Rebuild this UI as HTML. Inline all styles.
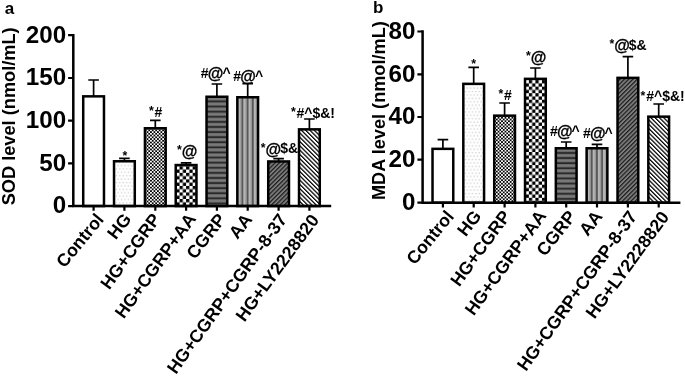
<!DOCTYPE html>
<html lang="en">
<head>
<meta charset="utf-8">
<title>SOD and MDA levels</title>
<style>
html,body{margin:0;padding:0;background:#fff;}
body{width:685px;height:376px;overflow:hidden;}
svg{display:block;}
text{font-family:"Liberation Sans", Arial, Helvetica, sans-serif;font-weight:bold;fill:#000;}
</style>
</head>
<body>
<svg width="685" height="376" viewBox="0 0 685 376">
<defs>
<pattern id="pa1" x="123.9" y="163.5" width="6.86" height="6.8" patternUnits="userSpaceOnUse"><rect width="6.86" height="6.8" fill="#fff"/><rect x="0.35" y="1.4" width="1.3" height="1.3" fill="#cfcfcf"/><rect x="3.78" y="1.4" width="1.3" height="1.3" fill="#cfcfcf"/><rect x="2.06" y="4.8" width="1.3" height="1.3" fill="#cfcfcf"/><rect x="5.49" y="4.8" width="1.3" height="1.3" fill="#cfcfcf"/></pattern>
<pattern id="pa2" x="155.3" y="129.5" width="3.47" height="3.47" patternUnits="userSpaceOnUse"><rect width="3.47" height="3.47" fill="#000"/><rect x="1.74" y="0.01" width="1.72" height="1.72" fill="#fff"/><rect x="0.01" y="1.74" width="1.72" height="1.72" fill="#fff"/></pattern>
<pattern id="pa3" x="186.1" y="166.3" width="6.54" height="6.54" patternUnits="userSpaceOnUse"><rect width="6.54" height="6.54" fill="#fff"/><rect width="3.27" height="3.27" fill="#000"/><rect x="3.27" y="3.27" width="3.27" height="3.27" fill="#000"/></pattern>
<pattern id="pa4" x="216.9" y="98" width="10" height="5.1" patternUnits="userSpaceOnUse"><rect width="10" height="5.1" fill="#666"/><rect y="0.2" width="10" height="1.4" fill="#7e7e7e"/><rect y="2.8" width="10" height="1.3" fill="#1a1a1a"/></pattern>
<pattern id="pa5" x="247.7" y="98.5" width="5.2" height="10" patternUnits="userSpaceOnUse"><rect width="5.2" height="10" fill="#a2a2a2"/><rect x="0.6" width="2" height="10" fill="#b6b6b6"/><rect x="4" width="1.2" height="10" fill="#7c7c7c"/><rect x="-0.1" width="0.7" height="10" fill="#3a3a3a"/><rect x="4.7" width="0.5" height="10" fill="#3a3a3a"/></pattern>
<pattern id="pa6" width="3.03" height="10" patternUnits="userSpaceOnUse" patternTransform="translate(278.6 162.7) rotate(45)"><rect width="3.03" height="10" fill="#7c7c7c"/><rect width="1.2" height="10" fill="#1c1c1c"/></pattern>
<pattern id="pa7" width="3.03" height="10" patternUnits="userSpaceOnUse" patternTransform="translate(309.4 130.6) rotate(-45)"><rect width="3.03" height="10" fill="#fff"/><rect width="1.25" height="10" fill="#000"/></pattern>
<pattern id="pb1" x="473.2" y="86.1" width="6.86" height="6.8" patternUnits="userSpaceOnUse"><rect width="6.86" height="6.8" fill="#fff"/><rect x="0.35" y="1.4" width="1.3" height="1.3" fill="#cfcfcf"/><rect x="3.78" y="1.4" width="1.3" height="1.3" fill="#cfcfcf"/><rect x="2.06" y="4.8" width="1.3" height="1.3" fill="#cfcfcf"/><rect x="5.49" y="4.8" width="1.3" height="1.3" fill="#cfcfcf"/></pattern>
<pattern id="pb2" x="504.6" y="116.9" width="3.47" height="3.47" patternUnits="userSpaceOnUse"><rect width="3.47" height="3.47" fill="#000"/><rect x="1.74" y="0.01" width="1.72" height="1.72" fill="#fff"/><rect x="0.01" y="1.74" width="1.72" height="1.72" fill="#fff"/></pattern>
<pattern id="pb3" x="535.4" y="80.1" width="6.54" height="6.54" patternUnits="userSpaceOnUse"><rect width="6.54" height="6.54" fill="#fff"/><rect width="3.27" height="3.27" fill="#000"/><rect x="3.27" y="3.27" width="3.27" height="3.27" fill="#000"/></pattern>
<pattern id="pb4" x="566.2" y="149.5" width="10" height="5.1" patternUnits="userSpaceOnUse"><rect width="10" height="5.1" fill="#666"/><rect y="0.2" width="10" height="1.4" fill="#7e7e7e"/><rect y="2.8" width="10" height="1.3" fill="#1a1a1a"/></pattern>
<pattern id="pb5" x="597" y="149.5" width="5.2" height="10" patternUnits="userSpaceOnUse"><rect width="5.2" height="10" fill="#a2a2a2"/><rect x="0.6" width="2" height="10" fill="#b6b6b6"/><rect x="4" width="1.2" height="10" fill="#7c7c7c"/><rect x="-0.1" width="0.7" height="10" fill="#3a3a3a"/><rect x="4.7" width="0.5" height="10" fill="#3a3a3a"/></pattern>
<pattern id="pb6" width="3.03" height="10" patternUnits="userSpaceOnUse" patternTransform="translate(627.9 79.1) rotate(45)"><rect width="3.03" height="10" fill="#7c7c7c"/><rect width="1.2" height="10" fill="#1c1c1c"/></pattern>
<pattern id="pb7" width="3.03" height="10" patternUnits="userSpaceOnUse" patternTransform="translate(658.7 117.9) rotate(-45)"><rect width="3.03" height="10" fill="#fff"/><rect width="1.25" height="10" fill="#000"/></pattern>
</defs>
<rect width="685" height="376" fill="#fff"/>
<g id="chart-a">
<path d="M93.6 96.1V80M88.3 80H98.9" stroke="#000" stroke-width="1.7" fill="none"/>
<rect x="83.22" y="96.35" width="20.75" height="109.7" fill="#fff" stroke="#000" stroke-width="2.5"/>
<path d="M124.4 161V158.3M119.1 158.3H129.7" stroke="#000" stroke-width="1.7" fill="none"/>
<rect x="114.03" y="161.25" width="20.75" height="44.8" fill="url(#pa1)" stroke="#000" stroke-width="2.5"/>
<path d="M155.3 128V120.4M150 120.4H160.6" stroke="#000" stroke-width="1.7" fill="none"/>
<rect x="144.93" y="128.25" width="20.75" height="77.8" fill="url(#pa2)" stroke="#000" stroke-width="2.5"/>
<path d="M186.1 164.8V162.9M180.8 162.9H191.4" stroke="#000" stroke-width="1.7" fill="none"/>
<rect x="175.72" y="165.05" width="20.75" height="41" fill="url(#pa3)" stroke="#000" stroke-width="2.5"/>
<path d="M216.9 96.5V84M211.6 84H222.2" stroke="#000" stroke-width="1.7" fill="none"/>
<rect x="206.53" y="96.75" width="20.75" height="109.3" fill="url(#pa4)" stroke="#000" stroke-width="2.5"/>
<path d="M247.7 97V83.7M242.4 83.7H253" stroke="#000" stroke-width="1.7" fill="none"/>
<rect x="237.32" y="97.25" width="20.75" height="108.8" fill="url(#pa5)" stroke="#000" stroke-width="2.5"/>
<path d="M278.6 161.2V158.6M273.3 158.6H283.9" stroke="#000" stroke-width="1.7" fill="none"/>
<rect x="268.23" y="161.45" width="20.75" height="44.6" fill="url(#pa6)" stroke="#000" stroke-width="2.5"/>
<path d="M309.4 129.1V119M304.1 119H314.7" stroke="#000" stroke-width="1.7" fill="none"/>
<rect x="299.02" y="129.35" width="20.75" height="76.7" fill="url(#pa7)" stroke="#000" stroke-width="2.5"/>
<path d="M73.3 34V207.25M72.1 206.05H331.2" stroke="#000" stroke-width="2.5" fill="none"/>
<path d="M68.1 35.2H73.3M68.1 78H73.3M68.1 120.7H73.3M68.1 163.4H73.3M68.1 206.05H73.3M93.6 206.05V210.85M124.4 206.05V210.85M155.3 206.05V210.85M186.1 206.05V210.85M216.9 206.05V210.85M247.7 206.05V210.85M278.6 206.05V210.85M309.4 206.05V210.85" stroke="#000" stroke-width="2.2" fill="none"/>
<text x="66.2" y="42.6" font-size="24" text-anchor="end" textLength="40.35" lengthAdjust="spacingAndGlyphs">200</text>
<text x="66.2" y="85.4" font-size="24" text-anchor="end" textLength="40.35" lengthAdjust="spacingAndGlyphs">150</text>
<text x="66.2" y="128.1" font-size="24" text-anchor="end" textLength="40.35" lengthAdjust="spacingAndGlyphs">100</text>
<text x="66.2" y="170.8" font-size="24" text-anchor="end" textLength="26.9" lengthAdjust="spacingAndGlyphs">50</text>
<text x="66.2" y="213.45" font-size="24" text-anchor="end" textLength="13.45" lengthAdjust="spacingAndGlyphs">0</text>
<text x="15.2" y="205.3" font-size="17.6" text-anchor="start" textLength="178" lengthAdjust="spacingAndGlyphs" transform="rotate(-90 15.2 205.3)">SOD level (nmol/mL)</text>
<text x="4.7" y="13.8" font-size="17" text-anchor="start">a</text>
<text x="104.7" y="219.85" font-size="17.8" text-anchor="end" transform="rotate(-50.6 104.7 219.85)">Control</text>
<text x="132.1" y="219.35" font-size="17.8" text-anchor="end" transform="rotate(-52.3 132.1 219.35)">HG</text>
<text x="161.3" y="219.05" font-size="17.8" text-anchor="end" transform="rotate(-53.9 161.3 219.05)">HG+CGRP</text>
<text x="196.9" y="218.85" font-size="17.8" text-anchor="end" transform="rotate(-54 196.9 218.85)">HG+CGRP+AA</text>
<text x="226.6" y="219.65" font-size="17.8" text-anchor="end" transform="rotate(-52 226.6 219.65)">CGRP</text>
<text x="253.2" y="219.55" font-size="17.8" text-anchor="end" transform="rotate(-52.5 253.2 219.55)">AA</text>
<text x="287.75" y="219.35" font-size="17.8" text-anchor="end" transform="rotate(-54.3 287.75 219.35)">HG+CGRP+CGRP-8-37</text>
<text x="319.8" y="220.05" font-size="17.8" text-anchor="end" transform="rotate(-53.7 319.8 220.05)">HG+LY2228820</text>
<text x="122.4" y="161.7" font-size="14"><tspan font-size="12.3" dy="-1.4">*</tspan></text>
<text x="149" y="116.6" font-size="14"><tspan font-size="12.3" dy="-1.4">*</tspan><tspan dy="1.4" dx="0.8">#</tspan></text>
<text x="176.9" y="155.8" font-size="14"><tspan font-size="12.3" dy="-1.4">*</tspan><tspan font-size="16" dy="2.7" stroke="#000" stroke-width="0.3">@</tspan></text>
<text x="200.8" y="77.6" font-size="14">#<tspan font-size="16" dy="1.3" dx="-0.8" stroke="#000" stroke-width="0.3">@</tspan><tspan dy="-1.3" dx="-1">^</tspan></text>
<text x="233.3" y="81.1" font-size="14">#<tspan font-size="16" dy="1.3" dx="-0.8" stroke="#000" stroke-width="0.3">@</tspan><tspan dy="-1.3" dx="-1">^</tspan></text>
<text x="260.8" y="153.4" font-size="14"><tspan font-size="12.3" dy="-1.4">*</tspan><tspan font-size="16" dy="2.7" stroke="#000" stroke-width="0.3">@</tspan><tspan dy="-1.3" dx="-1">$</tspan>&amp;</text>
<text x="290.9" y="117.6" font-size="14"><tspan font-size="12.3" dy="-1.4">*</tspan><tspan dy="1.4" dx="0.8">#</tspan>^$&amp;!</text>
</g>
<g id="chart-b">
<path d="M442.9 148.6V139.6M437.6 139.6H448.2" stroke="#000" stroke-width="1.7" fill="none"/>
<rect x="432.52" y="148.85" width="20.75" height="53.85" fill="#fff" stroke="#000" stroke-width="2.5"/>
<path d="M473.7 83.6V67.4M468.4 67.4H479" stroke="#000" stroke-width="1.7" fill="none"/>
<rect x="463.32" y="83.85" width="20.75" height="118.85" fill="url(#pb1)" stroke="#000" stroke-width="2.5"/>
<path d="M504.6 115.4V103M499.3 103H509.9" stroke="#000" stroke-width="1.7" fill="none"/>
<rect x="494.23" y="115.65" width="20.75" height="87.05" fill="url(#pb2)" stroke="#000" stroke-width="2.5"/>
<path d="M535.4 78.6V68M530.1 68H540.7" stroke="#000" stroke-width="1.7" fill="none"/>
<rect x="525.02" y="78.85" width="20.75" height="123.85" fill="url(#pb3)" stroke="#000" stroke-width="2.5"/>
<path d="M566.2 148V142M560.9 142H571.5" stroke="#000" stroke-width="1.7" fill="none"/>
<rect x="555.83" y="148.25" width="20.75" height="54.45" fill="url(#pb4)" stroke="#000" stroke-width="2.5"/>
<path d="M597 148V144.4M591.7 144.4H602.3" stroke="#000" stroke-width="1.7" fill="none"/>
<rect x="586.62" y="148.25" width="20.75" height="54.45" fill="url(#pb5)" stroke="#000" stroke-width="2.5"/>
<path d="M627.9 77.6V56.6M622.6 56.6H633.2" stroke="#000" stroke-width="1.7" fill="none"/>
<rect x="617.52" y="77.85" width="20.75" height="124.85" fill="url(#pb6)" stroke="#000" stroke-width="2.5"/>
<path d="M658.7 116.4V104M653.4 104H664" stroke="#000" stroke-width="1.7" fill="none"/>
<rect x="648.33" y="116.65" width="20.75" height="86.05" fill="url(#pb7)" stroke="#000" stroke-width="2.5"/>
<path d="M422.6 30.3V203.9M421.4 202.7H680.4" stroke="#000" stroke-width="2.5" fill="none"/>
<path d="M417.4 31.5H422.6M417.4 74.3H422.6M417.4 117H422.6M417.4 159.7H422.6M417.4 202.7H422.6M442.9 202.7V207.5M473.7 202.7V207.5M504.6 202.7V207.5M535.4 202.7V207.5M566.2 202.7V207.5M597 202.7V207.5M627.9 202.7V207.5M658.7 202.7V207.5" stroke="#000" stroke-width="2.2" fill="none"/>
<text x="415.5" y="38.9" font-size="24" text-anchor="end" textLength="26.9" lengthAdjust="spacingAndGlyphs">80</text>
<text x="415.5" y="81.7" font-size="24" text-anchor="end" textLength="26.9" lengthAdjust="spacingAndGlyphs">60</text>
<text x="415.5" y="124.4" font-size="24" text-anchor="end" textLength="26.9" lengthAdjust="spacingAndGlyphs">40</text>
<text x="415.5" y="167.1" font-size="24" text-anchor="end" textLength="26.9" lengthAdjust="spacingAndGlyphs">20</text>
<text x="415.5" y="210.1" font-size="24" text-anchor="end" textLength="13.45" lengthAdjust="spacingAndGlyphs">0</text>
<text x="385.4" y="200" font-size="17.6" text-anchor="start" textLength="178.8" lengthAdjust="spacingAndGlyphs" transform="rotate(-90 385.4 200)">MDA level (nmol/mL)</text>
<text x="373" y="13.2" font-size="17" text-anchor="start">b</text>
<text x="454.8" y="216.9" font-size="17.8" text-anchor="end" transform="rotate(-50.6 454.8 216.9)">Control</text>
<text x="482.2" y="216.4" font-size="17.8" text-anchor="end" transform="rotate(-52.3 482.2 216.4)">HG</text>
<text x="511.4" y="216.1" font-size="17.8" text-anchor="end" transform="rotate(-53.9 511.4 216.1)">HG+CGRP</text>
<text x="547" y="215.9" font-size="17.8" text-anchor="end" transform="rotate(-54 547 215.9)">HG+CGRP+AA</text>
<text x="576.7" y="216.7" font-size="17.8" text-anchor="end" transform="rotate(-52 576.7 216.7)">CGRP</text>
<text x="603.3" y="216.6" font-size="17.8" text-anchor="end" transform="rotate(-52.5 603.3 216.6)">AA</text>
<text x="637.85" y="216.4" font-size="17.8" text-anchor="end" transform="rotate(-54.3 637.85 216.4)">HG+CGRP+CGRP-8-37</text>
<text x="669.9" y="217.1" font-size="17.8" text-anchor="end" transform="rotate(-53.7 669.9 217.1)">HG+LY2228820</text>
<text x="471.3" y="69.5" font-size="14"><tspan font-size="12.3" dy="-1.4">*</tspan></text>
<text x="498.4" y="99.6" font-size="14"><tspan font-size="12.3" dy="-1.4">*</tspan><tspan dy="1.4" dx="0.8">#</tspan></text>
<text x="526" y="61.4" font-size="14"><tspan font-size="12.3" dy="-1.4">*</tspan><tspan font-size="16" dy="2.7" stroke="#000" stroke-width="0.3">@</tspan></text>
<text x="550" y="135.6" font-size="14">#<tspan font-size="16" dy="1.3" dx="-0.8" stroke="#000" stroke-width="0.3">@</tspan><tspan dy="-1.3" dx="-1">^</tspan></text>
<text x="583" y="138" font-size="14">#<tspan font-size="16" dy="1.3" dx="-0.8" stroke="#000" stroke-width="0.3">@</tspan><tspan dy="-1.3" dx="-1">^</tspan></text>
<text x="609.4" y="49.6" font-size="14"><tspan font-size="12.3" dy="-1.4">*</tspan><tspan font-size="16" dy="2.7" stroke="#000" stroke-width="0.3">@</tspan><tspan dy="-1.3" dx="-1">$</tspan>&amp;</text>
<text x="640.6" y="101.2" font-size="14"><tspan font-size="12.3" dy="-1.4">*</tspan><tspan dy="1.4" dx="0.8">#</tspan>^$&amp;!</text>
</g>
</svg>
</body>
</html>
